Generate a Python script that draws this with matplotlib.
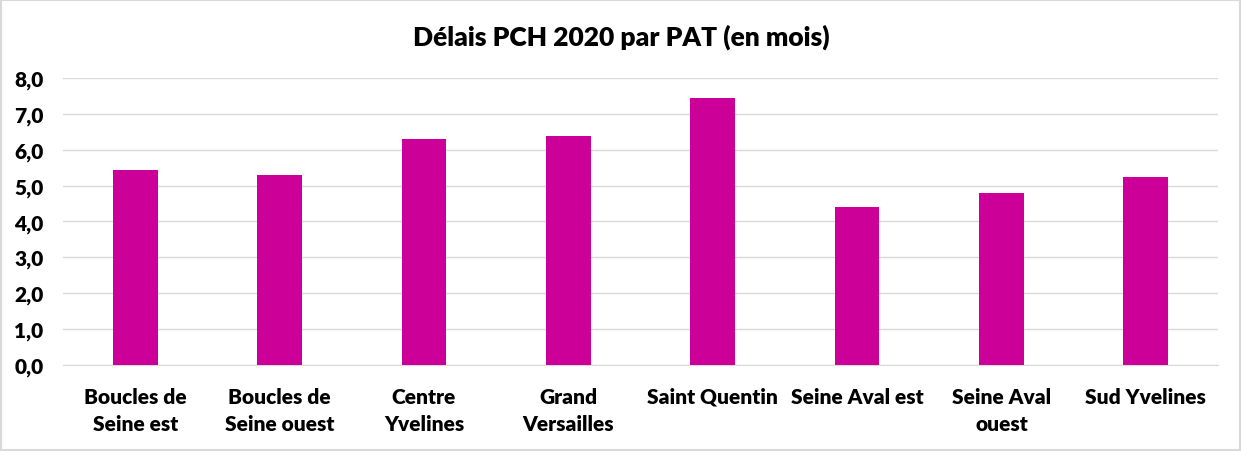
import matplotlib.pyplot as plt
from matplotlib.patches import Rectangle

# Délais PCH 2020 par PAT
categories = ["Boucles de\nSeine est", "Boucles de\nSeine ouest", "Centre\nYvelines",
              "Grand\nVersailles", "Saint Quentin", "Seine Aval est",
              "Seine Aval\nouest", "Sud Yvelines"]
delais = [5.43, 5.29, 6.30, 6.38, 7.44, 4.40, 4.79, 5.24]
yticks = [0, 1, 2, 3, 4, 5, 6, 7, 8]

plt.rcParams['font.family'] = ['Lato', 'DejaVu Sans']

fig = plt.figure(figsize=(12.42, 4.52), dpi=100)
ax = fig.add_axes([0.0507, 0.191, 0.93, 0.634])

x = range(len(categories))
ax.bar(x, delais, width=0.31, color="#CC0099", zorder=3)

ax.set_xlim(-0.5, len(categories) - 0.5)
ax.set_ylim(0, 8)
ax.set_yticks(yticks)
ax.set_yticklabels([f"{v:.1f}".replace(".", ",") for v in yticks],
                   fontsize=15, fontweight="heavy")
ax.set_xticks(list(x))
ax.set_xticklabels(categories, fontsize=15, fontweight="heavy", linespacing=1.5,
                   va="top")
ax.tick_params(axis="both", length=0)
ax.tick_params(axis="x", pad=16)
ax.tick_params(axis="y", pad=14)

ax.grid(axis="y", color="#D9D9D9", linewidth=1, zorder=0)
for s in ["top", "right", "left"]:
    ax.spines[s].set_visible(False)
ax.spines["bottom"].set_color("#D9D9D9")

fig.text(0.5, 0.917, "Délais PCH 2020 par PAT (en mois)", ha="center", va="center",
         fontsize=19, fontweight="heavy")

fig.patches.append(Rectangle((0.001, 0.002), 0.997, 0.995, transform=fig.transFigure,
                             fill=False, edgecolor="#D9D9D9", linewidth=1.5))

fig.savefig("out.png", dpi=100)
